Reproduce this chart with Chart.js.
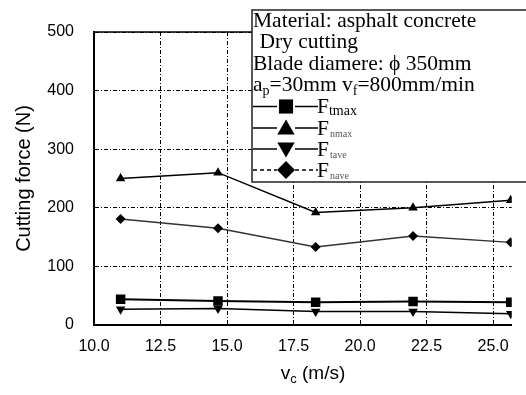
<!DOCTYPE html>
<html>
<head>
<meta charset="utf-8">
<script src="https://cdn.jsdelivr.net/npm/chart.js@4.4.0/dist/chart.umd.min.js"></script>
<style>
  html, body { margin: 0; padding: 0; background: #fff; }
</style>
</head>
<body>
<canvas id="forceCanvas" width="526" height="395"></canvas>
<script>
// cutting speed vc (m/s)
var speeds = [11.0, 14.66, 18.33, 21.99, 25.66];
// forces (N)
var fTmax = [44, 41, 39, 40, 39];
var fNmax = [250, 260, 192, 200, 213];
var fTave = [27, 28, 23, 23, 19];
var fNave = [181, 165, 133, 152, 141];
var xTicks = [10, 12.5, 15, 17.5, 20, 22.5, 25];
var yTicks = [0, 100, 200, 300, 400, 500];

function pts(arr) {
  return arr.map(function (v, i) { return { x: speeds[i], y: v }; });
}

var serif = "'Liberation Serif', 'Times New Roman', serif";
var sans = "'Liberation Sans', Arial, sans-serif";

var boxPlugin = {
  id: "boxPlugin",
  beforeDatasetsDraw: function (chart) {
    var a = chart.chartArea, c = chart.ctx;
    c.save();
    c.strokeStyle = "#000";
    c.lineWidth = 1.5;
    c.beginPath();
    c.moveTo(a.left, a.top);
    c.lineTo(a.right, a.top);
    c.stroke();
    c.restore();
  },
  afterDraw: function (chart) {
    var c = chart.ctx, a = chart.chartArea;
    c.save();
    // x axis title with subscript
    c.fillStyle = "#000";
    c.textBaseline = "alphabetic";
    c.font = "19px " + sans;
    var w1 = c.measureText("v").width;
    var w3 = c.measureText(" (m/s)").width;
    c.font = "13px " + sans;
    var w2 = c.measureText("c").width;
    var x0 = 313 - (w1 + w2 + w3) / 2;
    c.font = "19px " + sans;
    c.fillText("v", x0, 379);
    c.font = "13px " + sans;
    c.fillText("c", x0 + w1, 383);
    c.font = "19px " + sans;
    c.fillText(" (m/s)", x0 + w1 + w2, 379);

    // legend / info box
    c.fillStyle = "#fff";
    c.fillRect(252, 10, 290, 172);
    c.strokeStyle = "#222";
    c.lineWidth = 1.5;
    c.strokeRect(252, 10, 290, 172);

    c.fillStyle = "#000";
    c.font = "21.5px " + serif;
    c.fillText("Material: asphalt concrete", 253, 27);
    c.fillText(" Dry cutting", 254, 48);
    c.fillText("Blade diamere: \u03D5 350mm", 253, 70);
    var x = 253;
    c.fillText("a", x, 91); x += c.measureText("a").width;
    c.font = "14px " + serif;
    c.fillText("p", x, 95); x += c.measureText("p").width;
    c.font = "21.5px " + serif;
    c.fillText("=30mm v", x, 91); x += c.measureText("=30mm v").width;
    c.font = "14px " + serif;
    c.fillText("f", x, 95); x += c.measureText("f").width;
    c.font = "21.5px " + serif;
    c.fillText("=800mm/min", x, 91);

    var items = [
      { sub: "tmax", style: "rect", rot: 0, r: 10, dash: [], big: true },
      { sub: "nmax", style: "triangle", rot: 0, r: 10, dash: [], big: false },
      { sub: "tave", style: "triangle", rot: 180, r: 10, dash: [], big: false },
      { sub: "nave", style: "rectRot", rot: 0, r: 9, dash: [4, 3], big: false }
    ];
    var bases = [113, 134.5, 155.5, 176.5];
    items.forEach(function (it, i) {
      var cy = bases[i] - 6.5;
      c.strokeStyle = "#000";
      c.lineWidth = 1.5;
      c.setLineDash(it.dash);
      c.beginPath();
      c.moveTo(253, cy); c.lineTo(277, cy);
      c.moveTo(295, cy); c.lineTo(318, cy);
      c.stroke();
      c.setLineDash([]);
      c.fillStyle = "#000";
      Chart.helpers.drawPoint(c, {
        pointStyle: it.style, rotation: it.rot, radius: it.r, borderWidth: 0
      }, 286, it.style === "triangle" ? cy + (it.rot ? -1.5 : 1.5) : cy);
      c.font = "21.5px " + serif;
      c.fillStyle = "#000";
      c.fillText("F", 317, bases[i]);
      var fw = c.measureText("F").width;
      if (it.big) {
        c.font = "14px " + serif;
        c.fillText(it.sub, 317 + fw, bases[i] + 2);
      } else {
        c.font = "10px " + serif;
        c.fillStyle = "#555";
        c.fillText(it.sub, 317 + fw + 1, bases[i] + 2);
      }
    });
    c.restore();
  }
};

var ctx = document.getElementById("forceCanvas").getContext("2d");
var forceChart = new Chart(ctx, {
  type: "line",
  data: {
    datasets: [
      {
        label: "Ftmax",
        data: pts(fTmax),
        borderColor: "#000",
        backgroundColor: "#000",
        borderWidth: 2,
        pointStyle: "rect",
        pointRadius: 6.7,
        pointBorderWidth: 0
      },
      {
        label: "Fnmax",
        data: pts(fNmax),
        borderColor: "#000",
        backgroundColor: "#000",
        borderWidth: 1.5,
        pointStyle: "triangle",
        pointRadius: 5.5,
        pointBorderWidth: 0
      },
      {
        label: "Ftave",
        data: pts(fTave),
        borderColor: "#000",
        backgroundColor: "#000",
        borderWidth: 1.5,
        pointStyle: "triangle",
        pointRotation: 180,
        pointRadius: 5.5,
        pointBorderWidth: 0
      },
      {
        label: "Fnave",
        data: pts(fNave),
        borderColor: "#333",
        backgroundColor: "#000",
        borderWidth: 1.5,
        pointStyle: "rectRot",
        pointRadius: 5,
        pointBorderWidth: 0
      }
    ]
  },
  options: {
    responsive: false,
    animation: false,
    layout: { padding: { top: 32, right: 0, left: 0, bottom: 0 } },
    plugins: {
      legend: { display: false },
      tooltip: { enabled: false }
    },
    scales: {
      x: {
        type: "linear",
        min: 10,
        max: 25.7,
        afterFit: function (s) { s.height = 70; },
        afterBuildTicks: function (s) {
          s.ticks = xTicks.map(function (v) { return { value: v }; });
        },
        grid: { color: "#000", lineWidth: 1, drawTicks: true, tickLength: -5 },
        border: { color: "#000", width: 2, dash: [4, 2, 1, 2] },
        ticks: {
          color: "#000",
          padding: 17,
          maxRotation: 0,
          font: { family: sans, size: 16 },
          callback: function (v) { return Number(v).toFixed(1); }
        }
      },
      y: {
        min: 0,
        max: 500,
        afterFit: function (s) { s.width = 94; },
        afterBuildTicks: function (s) {
          s.ticks = yTicks.map(function (v) { return { value: v }; });
        },
        grid: { color: "#000", lineWidth: 1, drawTicks: false },
        border: { color: "#000", width: 2, dash: [4, 2, 1, 2] },
        ticks: {
          color: "#000",
          padding: 20,
          font: { family: sans, size: 16 }
        },
        title: {
          display: true,
          text: "Cutting force (N)",
          color: "#000",
          font: { family: sans, size: 20 },
          padding: { top: 12, bottom: 0 }
        }
      }
    }
  },
  plugins: [boxPlugin]
});
</script>
</body>
</html>
